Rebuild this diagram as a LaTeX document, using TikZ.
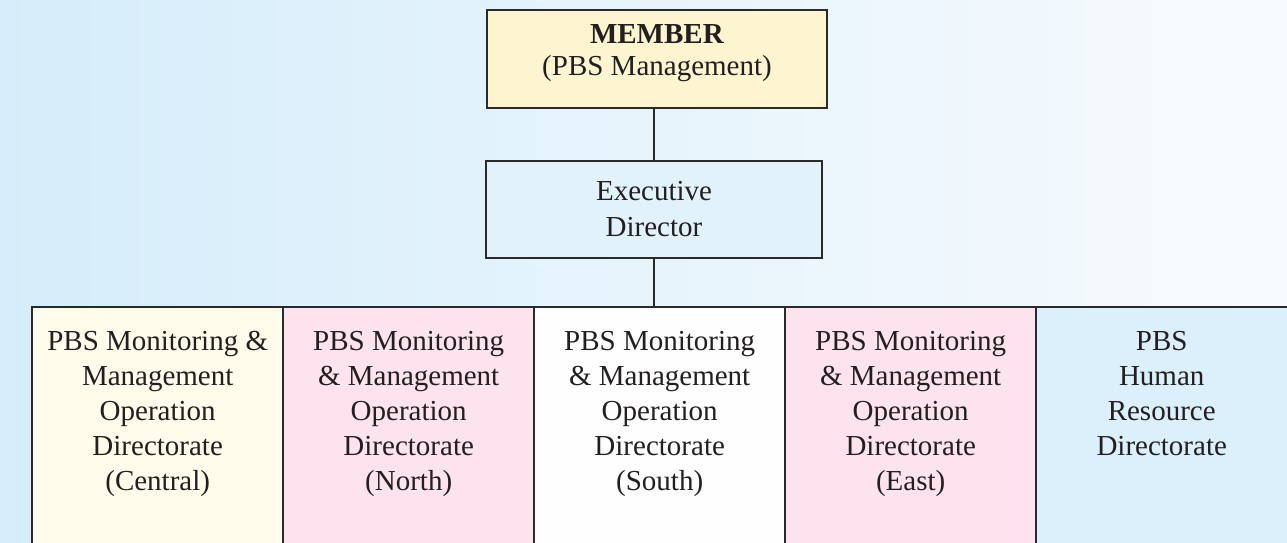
\documentclass[tikz,border=0pt]{standalone}
\usepackage{fontspec}
\setmainfont{Liberation Serif}
\definecolor{bgL}{HTML}{D5EDFA}
\definecolor{bgR}{HTML}{F8FBFE}
\definecolor{memberfill}{HTML}{FCF5D0}
\definecolor{execfill}{HTML}{E1F2FB}
\definecolor{creamfill}{HTML}{FEFDEC}
\definecolor{pinkfill}{HTML}{FCE3ED}
\definecolor{whitefill}{HTML}{FEFEFE}
\definecolor{hrfill}{HTML}{DCF0FB}
\definecolor{edge}{HTML}{2A2A2A}
\definecolor{ink}{HTML}{231F20}
\begin{document}
\begin{tikzpicture}[x=1pt,y=-1pt,
  box/.style={draw=edge,line width=1.8pt,rectangle,align=center,text=ink},
  dirbox/.style={rectangle,anchor=north west,
    inner xsep=0pt,inner ysep=24pt,font=\fontsize{29}{35}\selectfont,text=ink},
  link/.style={draw=edge,line width=1.8pt}]
\useasboundingbox (0,0) rectangle (1287,542);
\clip (0,0) rectangle (1287,542);
\shade[left color=bgL,right color=bgR] (0,0) rectangle (1287,542);
\node[box,fill=memberfill,minimum width=340pt,minimum height=98pt,
  font=\fontsize{29}{32}\selectfont,text depth=18pt] (member) at (657,59)
  {\textbf{MEMBER}\\(PBS Management)};
\node[box,fill=execfill,minimum width=336pt,minimum height=97pt,
  font=\fontsize{29}{36}\selectfont] (exec) at (654,209.5)
  {Executive\\Director};
\newcommand{\dirtext}[1]{\parbox[t][240pt][t]{251pt}{\centering #1}}
\node[dirbox,fill=creamfill] (central) at (32,307)
  {\dirtext{PBS Monitoring \&\\Management\\Operation\\Directorate\\(Central)}};
\node[dirbox,fill=pinkfill] (north) at (283,307)
  {\dirtext{PBS Monitoring\\\& Management\\Operation\\Directorate\\(North)}};
\node[dirbox,fill=whitefill] (south) at (534,307)
  {\dirtext{PBS Monitoring\\\& Management\\Operation\\Directorate\\(South)}};
\node[dirbox,fill=pinkfill] (east) at (785,307)
  {\dirtext{PBS Monitoring\\\& Management\\Operation\\Directorate\\(East)}};
\node[dirbox,fill=hrfill] (hr) at (1036,307)
  {\dirtext{PBS\\Human\\Resource\\Directorate}};
\foreach \n in {central,north,south,east,hr}
  \draw[edge,line width=1.8pt] (\n.north west) rectangle (\n.south east);
\draw[link] (member.south -| exec.north) -- (exec.north);
\draw[link] (exec.south) -- (exec.south |- south.north);
\end{tikzpicture}
\end{document}
